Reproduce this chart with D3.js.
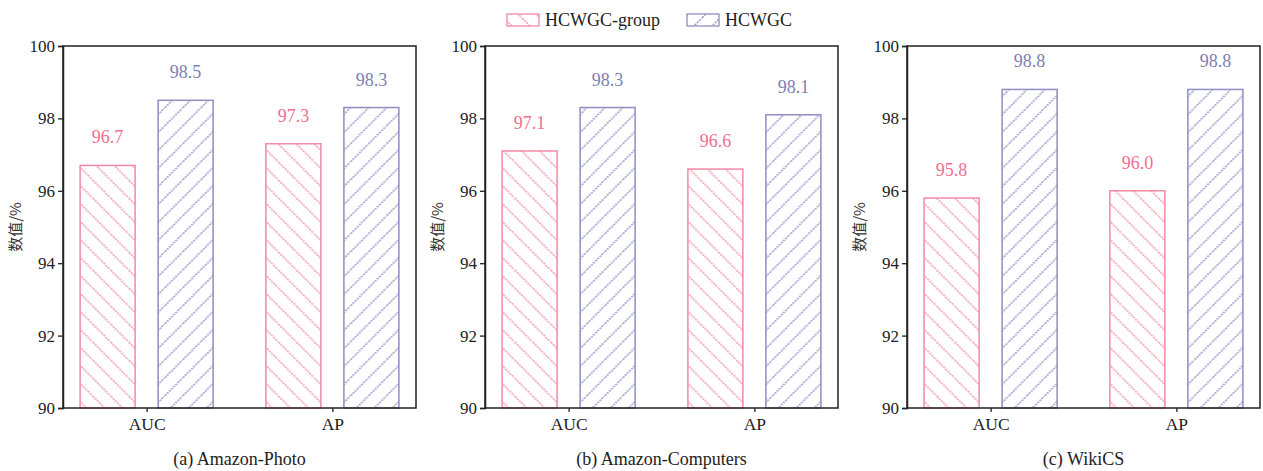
<!DOCTYPE html>
<html>
<head>
<meta charset="utf-8">
<script src="https://cdn.jsdelivr.net/npm/d3@7"></script>
<style>
  html, body { margin: 0; padding: 0; background: #fff; }
  svg { display: block; }
  text { font-family: "Liberation Serif", "Times New Roman", serif; fill: #222; }
</style>
</head>
<body>
<svg id="chart" width="1263" height="471"></svg>
<script>
// Datasets, metrics and scores (%)
const datasets = ["(a) Amazon-Photo", "(b) Amazon-Computers", "(c) WikiCS"];
const metrics = ["AUC", "AP"];
const seriesNames = ["HCWGC-group", "HCWGC"];
const groupScores = [[96.7, 97.3], [97.1, 96.6], [95.8, 96.0]];
const fullScores  = [[98.5, 98.3], [98.3, 98.1], [98.8, 98.8]];
const yTicks = [90, 92, 94, 96, 98, 100];
const yLabel = "数值/%";

const colors = {
  "HCWGC-group": { stroke: "#f28aa3", hatch: "#f39bb0", text: "#ef6f8f" },
  "HCWGC":       { stroke: "#8e8fc0", hatch: "#9c9dc8", text: "#7c7fb2" }
};

const svg = d3.select("#chart");
const defs = svg.append("defs");

// Diagonal hatch fills: "\" for the group variant, "/" for the full model
function hatch(id, color, dir) {
  const s = 18;
  const p = defs.append("pattern")
    .attr("id", id)
    .attr("patternUnits", "userSpaceOnUse")
    .attr("width", s).attr("height", s);
  const d = dir === "back"
    ? `M-4,-4 L${s + 4},${s + 4} M-4,${s - 4} L4,${s + 4} M${s - 4},-4 L${s + 4},4`
    : `M-4,${s + 4} L${s + 4},-4 M-4,4 L4,-4 M${s - 4},${s + 4} L${s + 4},${s - 4}`;
  p.append("path").attr("d", d)
    .attr("stroke", color).attr("stroke-width", 1.6)
    .attr("stroke-dasharray", "2,1");
}
hatch("hatch-group", colors["HCWGC-group"].hatch, "back");
hatch("hatch-full", colors["HCWGC"].hatch, "fwd");
const fillOf = { "HCWGC-group": "url(#hatch-group)", "HCWGC": "url(#hatch-full)" };

const panelLefts = [63, 485, 907];
const plotW = 353;
const plotTop = 46, plotBottom = 408;

const y = d3.scaleLinear().domain([90, 100]).range([plotBottom, plotTop]);
const x0 = d3.scalePoint().domain(metrics).range([0, plotW]).padding(0.45);
const x1 = d3.scaleBand().domain(seriesNames).range([-66.5, 66.5]).paddingInner(0.295);

datasets.forEach((name, i) => {
  const g = svg.append("g").attr("transform", `translate(${panelLefts[i]},0)`);

  const rows = metrics.map((m, j) => ({
    metric: m,
    values: [
      { series: "HCWGC-group", value: groupScores[i][j] },
      { series: "HCWGC", value: fullScores[i][j] }
    ]
  }));

  // bars
  const grp = g.selectAll(".m").data(rows).enter().append("g")
    .attr("transform", d => `translate(${x0(d.metric)},0)`);

  grp.selectAll("rect").data(d => d.values).enter().append("rect")
    .attr("x", d => x1(d.series))
    .attr("y", d => y(d.value))
    .attr("width", x1.bandwidth())
    .attr("height", d => y(90) - y(d.value))
    .attr("fill", d => fillOf[d.series])
    .attr("stroke", d => colors[d.series].stroke)
    .attr("stroke-width", 1.5);

  grp.selectAll("text.v").data(d => d.values).enter().append("text")
    .attr("class", "v")
    .attr("x", d => x1(d.series) + x1.bandwidth() / 2)
    .attr("y", d => y(d.value) - 22)
    .attr("text-anchor", "middle")
    .style("font-size", "18px")
    .style("fill", d => colors[d.series].text)
    .text(d => d.value.toFixed(1));

  // frame
  g.append("rect")
    .attr("x", 0).attr("y", plotTop)
    .attr("width", plotW).attr("height", plotBottom - plotTop)
    .attr("fill", "none").attr("stroke", "#222").attr("stroke-width", 1.5);

  // y axis
  const ya = g.append("g").call(
    d3.axisLeft(y).tickValues(yTicks).tickSize(5).tickPadding(3).tickFormat(d3.format("d"))
  );
  ya.select(".domain").attr("stroke", "#222").attr("stroke-width", 1.5);
  ya.selectAll(".tick line").attr("stroke", "#222").attr("stroke-width", 1.3);
  ya.selectAll(".tick text").style("font-size", "17px").style("fill", "#222")
    .style("font-family", "Liberation Serif, serif");

  // x axis
  const xa = g.append("g").attr("transform", `translate(0,${plotBottom})`).call(
    d3.axisBottom(x0).tickSize(4).tickPadding(6)
  );
  xa.select(".domain").remove();
  xa.selectAll(".tick line").attr("stroke", "#222").attr("stroke-width", 1.3);
  xa.selectAll(".tick text").style("font-size", "17.5px").style("fill", "#222")
    .style("font-family", "Liberation Serif, serif");

  // y title
  g.append("text")
    .attr("transform", `translate(-42,${(plotTop + plotBottom) / 2}) rotate(-90)`)
    .attr("text-anchor", "middle")
    .style("font-family", "Noto Sans CJK SC, sans-serif")
    .style("font-size", "15px")
    .style("fill", "#333")
    .text(yLabel);

  // panel caption
  g.append("text")
    .attr("x", plotW / 2).attr("y", 465)
    .attr("text-anchor", "middle")
    .style("font-size", "18px")
    .text(name);
});

// legend
const legendPos = [507, 687];
const lg = svg.append("g");
seriesNames.forEach((s, k) => {
  lg.append("rect")
    .attr("x", legendPos[k]).attr("y", 14)
    .attr("width", 32).attr("height", 12)
    .attr("fill", fillOf[s])
    .attr("stroke", colors[s].stroke).attr("stroke-width", 1.3);
  lg.append("text")
    .attr("x", legendPos[k] + 38).attr("y", 26)
    .style("font-size", "18px")
    .text(s);
});
</script>
</body>
</html>
